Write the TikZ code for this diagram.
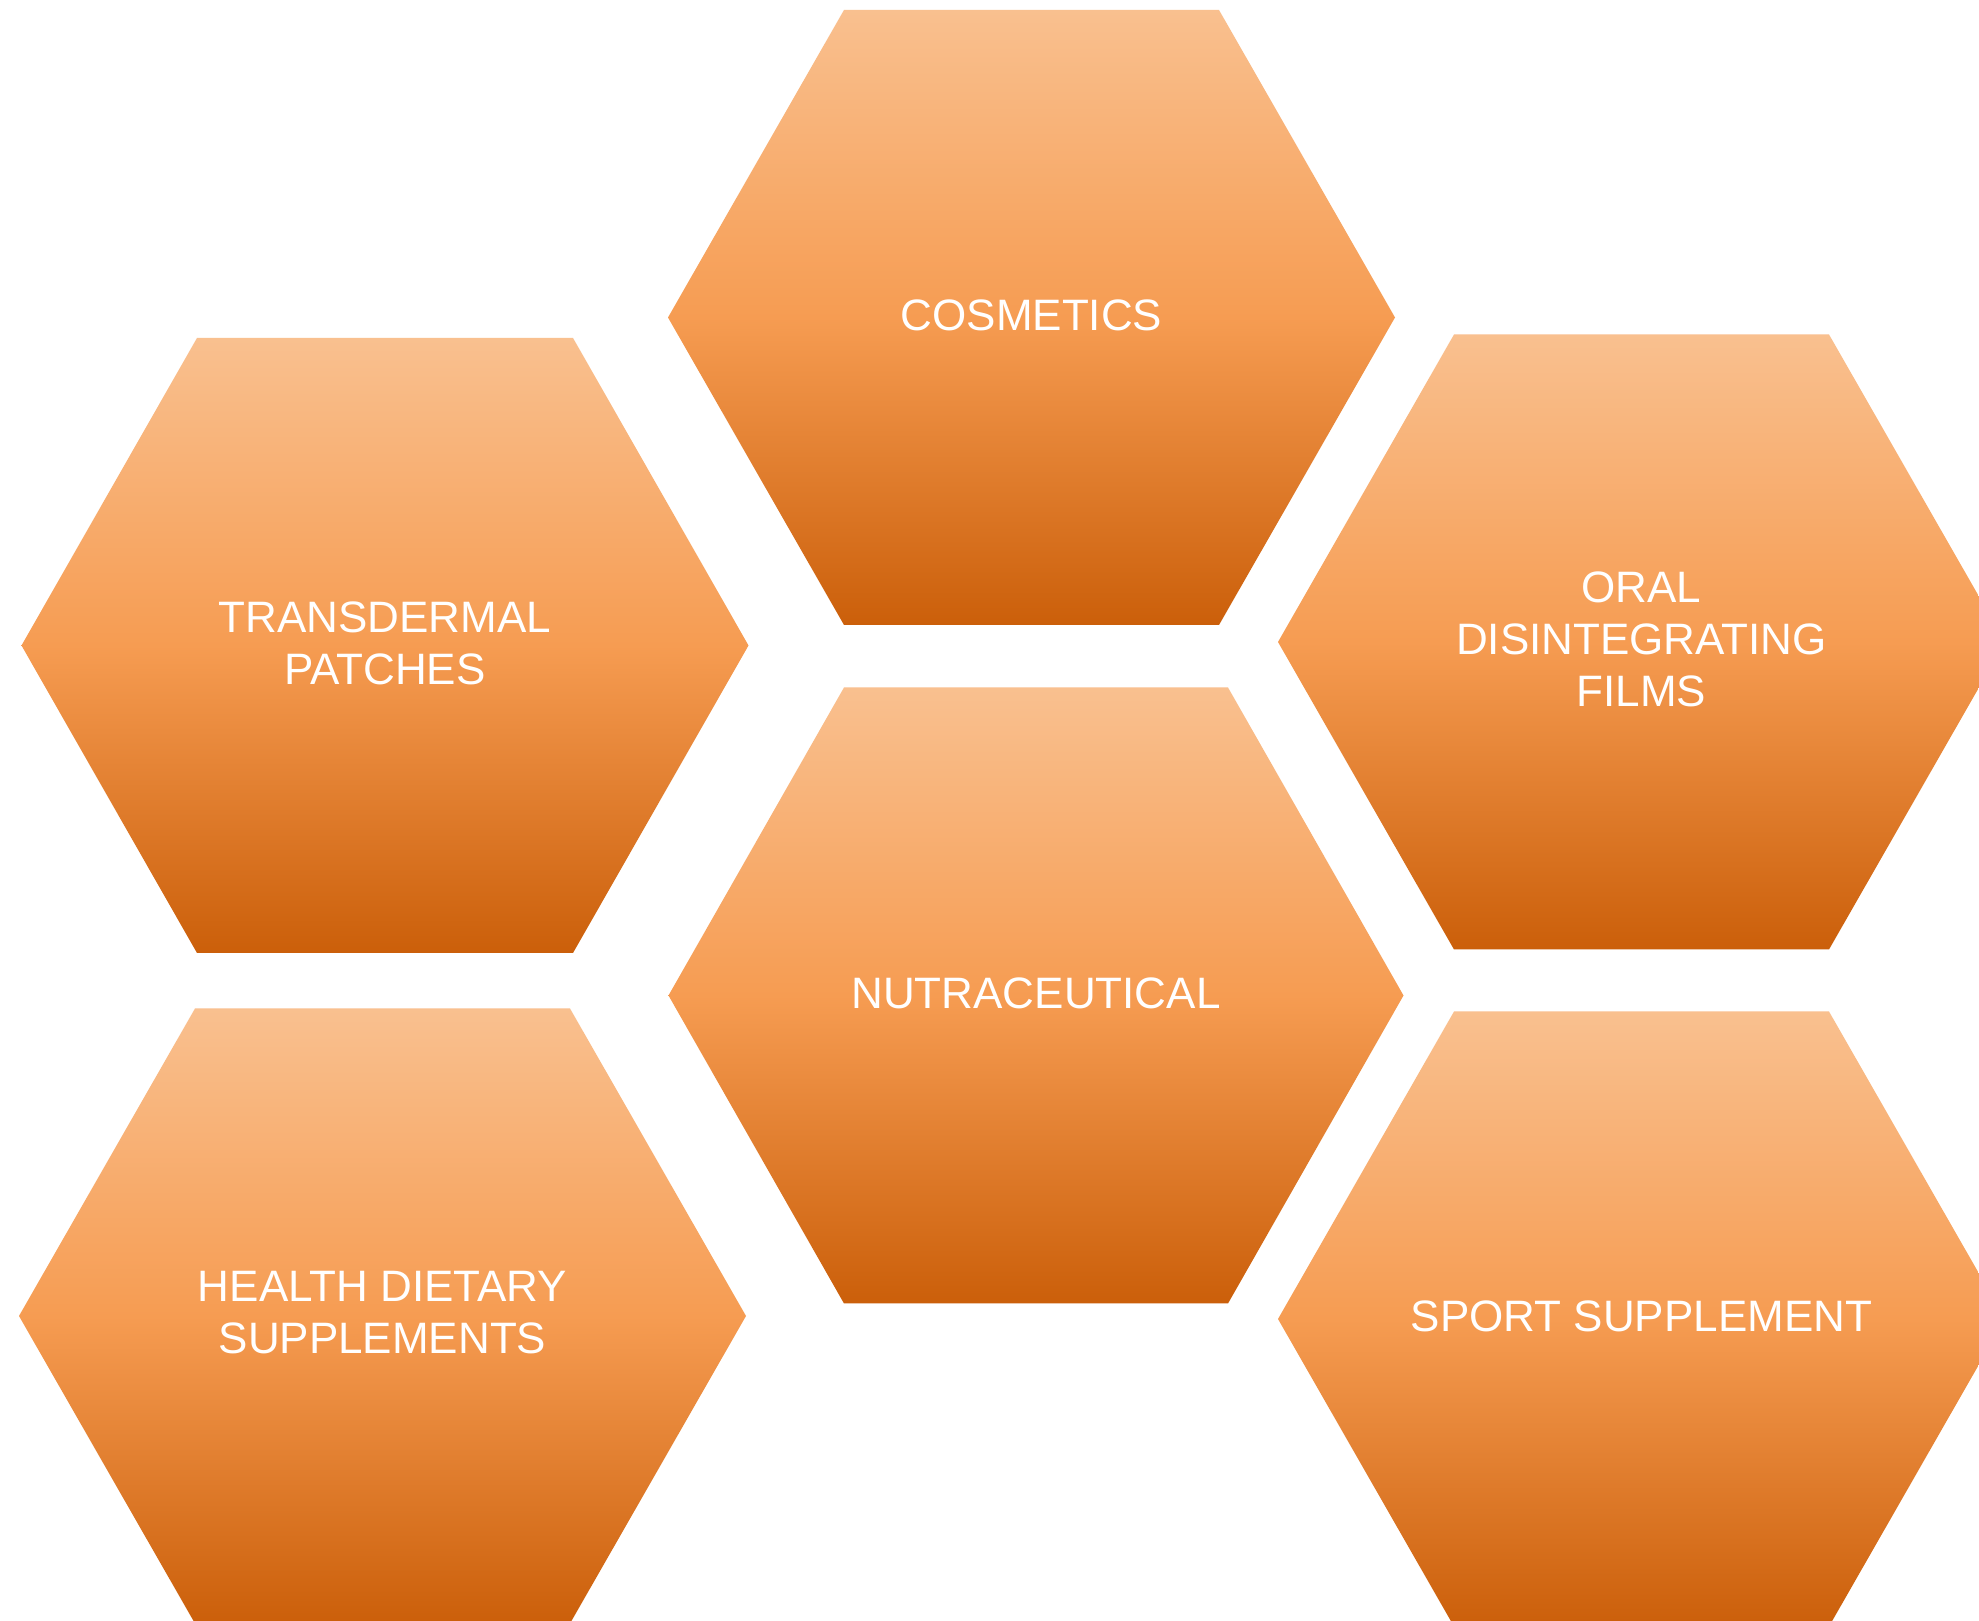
\documentclass[tikz,border=0pt]{standalone}
\usepackage{fontspec}
\setmainfont{Liberation Sans}
\usetikzlibrary{positioning}

\definecolor{hexTop}{HTML}{F9C08F}
\definecolor{hexMid}{HTML}{F69C52}
\definecolor{hexBot}{HTML}{CB5F0A}
\newcommand{\hexfont}{\fontsize{44}{52}\selectfont}

\begin{document}
\begin{tikzpicture}[
    x=1pt, y=1pt,
    hexfill/.style={draw=none, top color=hexTop, bottom color=hexBot, middle color=hexMid},
    hextext/.style={text=white, font=\hexfont, align=center, inner sep=0pt}
  ]
  % Page frame
  \useasboundingbox (0,0) rectangle (1979,1621);
  \fill[white] (0,0) rectangle (1979,1621);
  \clip (0,0) rectangle (1979,1621);

  % Hexagons: centre x / centre y / half width / half top / half height
  \foreach \cx/\cy/\a/\b/\h in {
      1031.5/1303.5/363.5/187.5/307.5,
      385/975.5/363.5/188/307.5,
      1641.5/979/363.5/187.5/307.5,
      1036/625.5/367.5/192/308,
      382.5/305/363.5/187.5/307.5,
      1641.5/302/363.5/187.5/307.5}
    \path[hexfill] (\cx-\a,\cy) -- (\cx-\b,\cy+\h) -- (\cx+\b,\cy+\h)
      -- (\cx+\a,\cy) -- (\cx+\b,\cy-\h) -- (\cx-\b,\cy-\h) -- cycle;

  % Labels
  \node[hextext] (cosm)   at (1031.5,1306) {COSMETICS};
  \node[hextext] (trans)  at (385,978)     {TRANSDERMAL\\PATCHES};
  \node[hextext] (oral)   at (1641.5,982)  {ORAL\\DISINTEGRATING\\FILMS};
  \node[hextext] (nutra)  at (1036,628)    {NUTRACEUTICAL};
  \node[hextext] (health) at (382.5,308)   {HEALTH DIETARY\\SUPPLEMENTS};
  \node[hextext] (sport)  at (1641.5,305)  {SPORT SUPPLEMENT};
\end{tikzpicture}
\end{document}
